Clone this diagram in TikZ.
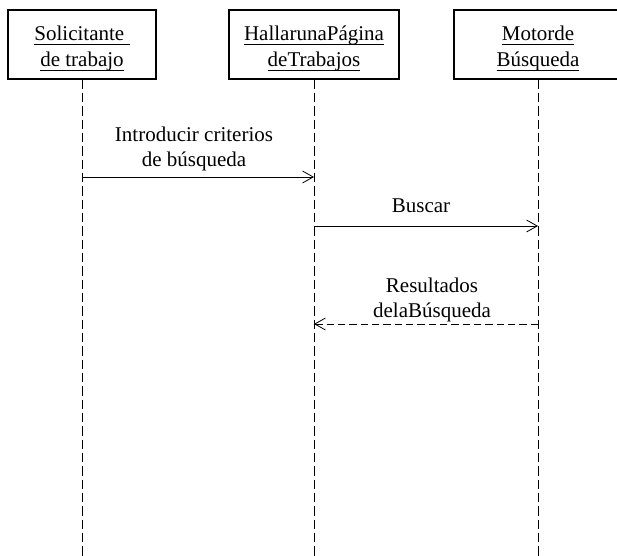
\documentclass[tikz,border=0pt]{standalone}
\usepackage{fontspec}
\setmainfont{Liberation Serif}
\newcommand{\ulx}[1]{\setbox0\hbox{#1}\rlap{\rule[-3pt]{\wd0}{0.6pt}}\box0}
\newcommand{\actortext}[2]{\rule{0pt}{17pt}\ulx{#1}\\\ulx{#2}}
\usepackage{tikz}
\usetikzlibrary{arrows.meta,positioning}
\tikzset{
  >={Straight Barb[length=8pt,width=9pt]},
  actor/.style={rectangle,draw,line width=0.8pt,minimum height=51.75pt,align=center,inner sep=0pt},
  lifeline/.style={draw,line width=0.6pt,dash pattern=on 7pt off 3pt},
  msg/.style={->,line width=0.6pt},
  reply/.style={msg,dash pattern=on 5.5pt off 3pt},
  msglabel/.style={midway,above=#1,align=center,text depth=0pt,inner sep=0pt}
}

\begin{document}
\begin{tikzpicture}[x=0.75pt,y=-0.75pt,font=\fontsize{15.75}{19.5}\selectfont]
  \useasboundingbox (0,0) rectangle (617,556);

  % Actors
  \node[actor,minimum width=111pt] (sol) at (82,44.5) {\actortext{Solicitante\ }{de trabajo}};
  \node[actor,minimum width=127.5pt] (pag) at (314,44.5) {\actortext{HallarunaPágina}{deTrabajos}};
  \node[actor,minimum width=126pt] (mot) at (538,44.5) {\actortext{Motorde}{Búsqueda}};

  % Lifelines
  \coordinate (solEnd) at (sol.south |- 0,556);
  \coordinate (pagEnd) at (pag.south |- 0,556);
  \coordinate (motEnd) at (mot.south |- 0,556);
  \draw[lifeline] (sol.south) -- (solEnd);
  \draw[lifeline] (pag.south) -- (pagEnd);
  \draw[lifeline] (mot.south) -- (motEnd);

  % Messages
  \coordinate (m1s) at (sol.south |- 0,177);
  \coordinate (m1e) at (pag.south |- 0,177);
  \coordinate (m2s) at (pag.south |- 0,226);
  \coordinate (m2e) at (mot.south |- 0,226);
  \coordinate (m3s) at (mot.south |- 0,324);
  \coordinate (m3e) at (pag.south |- 0,324);
  \draw[msg] (m1s) -- node[msglabel=7.5pt,xshift=-3pt,font=\fontsize{15.75}{18.75}\selectfont] {Introducir criterios\\de búsqueda} (m1e);
  \draw[msg] (m2s) -- node[msglabel=9.75pt,xshift=-3.75pt] {Buscar} (m2e);
  \draw[reply] (m3s) -- node[msglabel=4.5pt,xshift=4.5pt,font=\fontsize{15.75}{18.75}\selectfont] {Resultados\\delaBúsqueda} (m3e);
\end{tikzpicture}
\end{document}
